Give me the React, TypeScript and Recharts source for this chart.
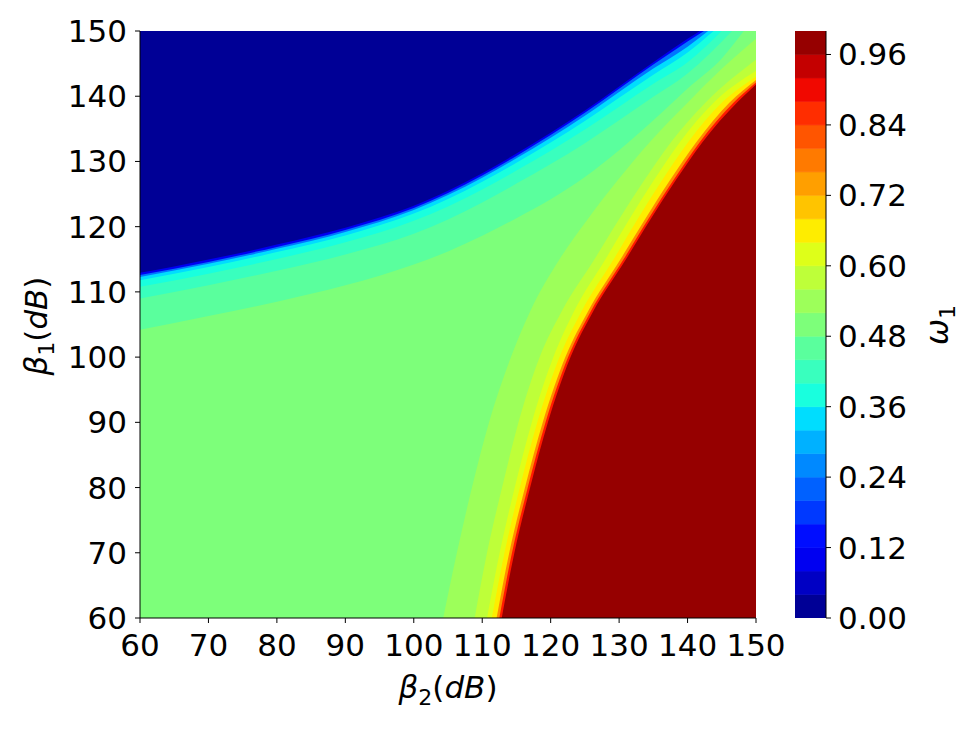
import React from 'react';
import { ComposedChart, Area, XAxis, YAxis } from 'recharts';

type Pt = [number, number];

const X_TICKS = [60, 70, 80, 90, 100, 110, 120, 130, 140, 150];
const Y_TICKS = [60, 70, 80, 90, 100, 110, 120, 130, 140, 150];
const CB_TICKS = [0, 0.12, 0.24, 0.36, 0.48, 0.6, 0.72, 0.84, 0.96];
const LEVELS = [0, 0.04, 0.08, 0.12, 0.16, 0.2, 0.24, 0.28, 0.32, 0.36, 0.4, 0.44, 0.48, 0.52, 0.56, 0.6, 0.64, 0.68, 0.72, 0.76, 0.8, 0.84, 0.88, 0.92, 0.96, 1.0];

// Upper-left family: contour lines (beta2, beta1); region above each line has value below its level
const upper04: Pt[] = [[60,112.95],[65,113.9],[70,114.95],[75,116.05],[80,117.25],[85,118.5],[90,119.85],[95,121.4],[100,123.2],[105,125.5],[110,128.2],[115,131.2],[120,134.4],[125,137.8],[130,141.5],[135,145.2],[140,148.8],[141.8,150]];
const upper16: Pt[] = [[60,112.6],[70,114.6],[80,116.9],[90,119.5],[100,122.85],[105,125.15],[110,127.85],[115,130.85],[120,134.05],[125,137.45],[130,141.15],[135,144.85],[140,148.4],[142.4,150]];
const upper32: Pt[] = [[60,112.3],[70,114.3],[80,116.6],[90,119.2],[100,122.55],[105,124.85],[110,127.5],[115,130.5],[120,133.65],[125,137.0],[130,140.65],[135,144.25],[140,147.6],[143.0,150]];
const upper36: Pt[] = [[60,111.8],[70,113.8],[80,116.1],[90,118.65],[100,122.0],[105,124.25],[110,126.9],[115,129.8],[120,132.9],[125,136.2],[130,139.75],[135,143.3],[140,146.7],[143.8,150]];
const upper40: Pt[] = [[60,110.8],[70,112.8],[80,115.05],[90,117.6],[100,120.9],[105,123.1],[110,125.7],[115,128.6],[120,131.65],[125,134.9],[130,138.4],[135,141.9],[140,145.2],[145.0,150]];
const upper44: Pt[] = [[60,109.0],[70,111.0],[80,113.25],[90,115.75],[100,118.9],[105,121.1],[110,123.7],[115,126.6],[120,129.6],[125,132.8],[130,136.3],[135,139.9],[140,143.5],[146.5,150]];
const upper48: Pt[] = [[60,104.2],[70,106.3],[80,108.5],[90,111.0],[100,114.2],[105,116.2],[110,118.6],[115,121.3],[120,124.2],[125,127.6],[130,131.7],[135,136.3],[140,141.2],[145,145.8],[148.2,150]];

// Lower-right family: region below each line has value above its level
const right52: Pt[] = [[104.3,60],[106.3,70],[108.5,80],[111.0,90],[114.2,100],[117.0,107],[121.3,115],[125.3,121],[129.7,127],[134.5,133],[140.0,139],[145.0,144.2],[150,148.8]];
const right56: Pt[] = [[108.9,60],[110.7,70],[112.9,80],[115.3,90],[118.4,100],[121.6,107],[126.4,115],[129.9,121],[133.6,127],[137.6,133],[142.6,139],[150,145.6]];
const right60: Pt[] = [[110.7,60],[112.55,70],[114.75,80],[117.25,90],[120.4,100],[123.4,107],[128.0,115],[131.4,121],[135.0,127],[138.9,133],[143.8,139],[150,143.9]];
const right64: Pt[] = [[111.4,60],[113.25,70],[115.5,80],[118.05,90],[121.3,100],[124.5,107],[129.2,115],[132.6,121],[136.2,127],[140.1,133],[145.0,139],[150,143.0]];
const right72: Pt[] = [[112.1,60],[113.95,70],[116.25,80],[118.85,90],[122.15,100],[125.45,107],[130.2,115],[133.7,121],[137.35,127],[141.3,133],[146.1,139],[150,142.5]];
const right84: Pt[] = [[112.5,60],[114.35,70],[116.65,80],[119.25,90],[122.55,100],[125.85,107],[130.65,115],[134.15,121],[137.85,127],[141.8,133],[146.7,139],[150,142.1]];
const right96: Pt[] = [[112.85,60],[114.7,70],[117.0,80],[119.6,90],[122.9,100],[126.2,107],[131.0,115],[134.5,121],[138.2,127],[142.2,133],[147.2,139],[150,141.8]];

const FONT = 'DejaVu Sans';

function jet(v: number): string {
  const idx = Math.min(255, Math.max(0, Math.floor(v * 256)));
  const x = idx / 255;
  const seg = (pts: number[][]) => {
    for (let i = 1; i < pts.length; i++) {
      if (x <= pts[i][0]) {
        const [x0, y0] = pts[i - 1];
        const [x1, y1] = pts[i];
        return y0 + ((x - x0) / (x1 - x0)) * (y1 - y0);
      }
    }
    return pts[pts.length - 1][1];
  };
  const r = seg([[0, 0], [0.35, 0], [0.66, 1], [0.89, 1], [1, 0.5]]);
  const g = seg([[0, 0], [0.125, 0], [0.375, 1], [0.64, 1], [0.91, 0], [1, 0]]);
  const b = seg([[0, 0.5], [0.11, 1], [0.34, 1], [0.65, 0], [1, 0]]);
  const c = (t: number) => Math.round(Math.max(0, Math.min(1, t)) * 255);
  return `rgb(${c(r)},${c(g)},${c(b)})`;
}

const UPPER = [
  { id: 'u48', pts: upper48, fill: jet(0.46) },
  { id: 'u44', pts: upper44, fill: jet(0.42) },
  { id: 'u40', pts: upper40, fill: jet(0.38) },
  { id: 'u36', pts: upper36, fill: jet(0.34) },
  { id: 'u32', pts: upper32, fill: jet(0.24) },
  { id: 'u16', pts: upper16, fill: jet(0.1) },
  { id: 'u04', pts: upper04, fill: jet(0.02) },
];
const RIGHT = [
  { id: 'r52', pts: right52, fill: jet(0.54) },
  { id: 'r56', pts: right56, fill: jet(0.58) },
  { id: 'r60', pts: right60, fill: jet(0.62) },
  { id: 'r64', pts: right64, fill: jet(0.66) },
  { id: 'r72', pts: right72, fill: jet(0.76) },
  { id: 'r84', pts: right84, fill: jet(0.88) },
  { id: 'r96', pts: right96, fill: jet(0.98) },
];

export default function App() {
  const tick = { fill: '#000', fontSize: 31, fontFamily: FONT };
  const black = { stroke: '#000', strokeWidth: 1 };
  const bg = [{ x: 60, r: [60, 150] }, { x: 150, r: [60, 150] }];
  return (
    <div style={{ position: 'relative', width: 972, height: 729, background: '#fff', overflow: 'hidden' }}>
      <style>{'body{margin:0}'}</style>
      <div style={{ position: 'absolute', left: 0, top: 0 }}>
        <ComposedChart width={972} height={729} margin={{ top: 31, right: 216, bottom: 51, left: 60 }}>
          <XAxis type="number" dataKey="x" domain={[60, 150]} allowDataOverflow ticks={X_TICKS} interval={0}
            height={60} tick={tick} tickSize={5} tickMargin={11} tickLine={black} axisLine={black} />
          <XAxis xAxisId="top" orientation="top" type="number" domain={[60, 150]} allowDataOverflow height={0}
            tick={false} tickLine={false} axisLine={black} />
          <YAxis type="number" domain={[60, 150]} allowDataOverflow ticks={Y_TICKS} interval={0}
            width={80} tick={tick} tickSize={5} tickMargin={8} tickLine={black} axisLine={black} />
          <YAxis yAxisId="right" orientation="right" type="number" domain={[60, 150]} allowDataOverflow width={0}
            tick={false} tickLine={false} axisLine={black} />
          <Area data={bg} dataKey="r" type="linear" fill={jet(0.5)} fillOpacity={1} stroke="none" isAnimationActive={false} dot={false} activeDot={false} />
          {UPPER.map((u) => (
            <Area key={u.id} data={u.pts.map(([x, y]) => ({ x, r: [y, 150] }))} dataKey="r" type="monotoneX"
              fill={u.fill} fillOpacity={1} stroke="none" isAnimationActive={false} dot={false} activeDot={false} />
          ))}
          {RIGHT.map((u) => (
            <Area key={u.id} data={u.pts.map(([x, y]) => ({ x, r: [60, y] }))} dataKey="r" type="monotoneX"
              fill={u.fill} fillOpacity={1} stroke="none" isAnimationActive={false} dot={false} activeDot={false} />
          ))}
        </ComposedChart>
      </div>
      <div style={{ position: 'absolute', left: 795, top: 0 }}>
        <ComposedChart width={177} height={729} margin={{ top: 31, right: 0, bottom: 111, left: 0 }}>
          <XAxis type="number" dataKey="x" domain={[0, 1]} allowDataOverflow height={0} tick={false} tickLine={false} axisLine={black} />
          <XAxis xAxisId="top" orientation="top" type="number" domain={[0, 1]} height={0} tick={false} tickLine={false} axisLine={black} />
          <YAxis yAxisId="left" orientation="left" type="number" domain={[0, 1]} width={0} tick={false} tickLine={false} axisLine={black} />
          <YAxis orientation="right" type="number" domain={[0, 1]} allowDataOverflow ticks={CB_TICKS} interval={0}
            width={146} tick={tick} tickSize={5} tickMargin={7} tickLine={black} axisLine={black}
            tickFormatter={(v: number) => v.toFixed(2)} />
          {LEVELS.slice(0, -1).map((lo, i) => {
            const hi = LEVELS[i + 1];
            const c = jet((lo + hi) / 2);
            return (
              <Area key={'cb' + i} data={[{ x: 0, r: [lo, hi] }, { x: 1, r: [lo, hi] }]} dataKey="r" type="linear"
                fill={c} fillOpacity={1} stroke={c} strokeWidth={0.6} isAnimationActive={false} dot={false} activeDot={false} />
            );
          })}
        </ComposedChart>
      </div>
      <svg width={972} height={729} style={{ position: 'absolute', left: 0, top: 0, pointerEvents: 'none' }}>
        <text x={448} y={698} textAnchor="middle" fontFamily={FONT} fontSize={31} fill="#000">
          <tspan fontStyle="italic">β</tspan>
          <tspan fontSize={22} dy={7}>2</tspan>
          <tspan dy={-7}>(</tspan>
          <tspan fontStyle="italic">dB</tspan>
          <tspan>)</tspan>
        </text>
        <text x={47} y={326} transform="rotate(-90 47 326)" textAnchor="middle" fontFamily={FONT} fontSize={31} fill="#000">
          <tspan fontStyle="italic">β</tspan>
          <tspan fontSize={22} dy={7}>1</tspan>
          <tspan dy={-7}>(</tspan>
          <tspan fontStyle="italic">dB</tspan>
          <tspan>)</tspan>
        </text>
        <text x={948} y={325} transform="rotate(-90 948 325)" textAnchor="middle" fontFamily={FONT} fontSize={31} fill="#000">
          <tspan fontStyle="italic">ω</tspan>
          <tspan fontSize={22} dy={7}>1</tspan>
        </text>
      </svg>
    </div>
  );
}
